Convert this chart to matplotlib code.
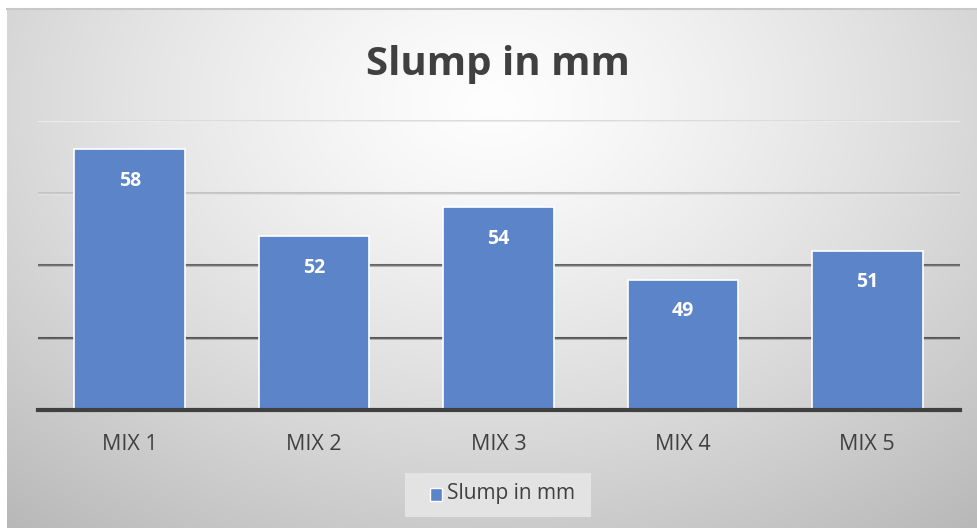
import numpy as np
import matplotlib
matplotlib.use("Agg")
import matplotlib.pyplot as plt
from matplotlib.patches import Rectangle

categories = ["MIX 1", "MIX 2", "MIX 3", "MIX 4", "MIX 5"]
values = [58, 52, 54, 49, 51]
series_name = "Slump in mm"
title = "Slump in mm"
y_min, y_max = 40, 60
grid_vals = [45, 50, 55, 60]
grid_colors = ["#555555", "#666666", "#c4c4c4", "#d8d8d8"]

plt.rcParams['font.family'] = ['Open Sans', 'DejaVu Sans']

W, H = 977, 528
fig = plt.figure(figsize=(W / 100, H / 100), dpi=100)
fig.patch.set_facecolor("white")

# background gradient
bg = fig.add_axes([7 / W, 0, (W - 7) / W, (H - 8) / H])
bg.set_axis_off()
yy, xx = np.mgrid[0:1:300j, 0:1:600j]
d = np.sqrt(((xx - 0.5) / 0.72) ** 2 + ((yy - 0.18) / 0.95) ** 2)
lum = 0.995 - 0.24 * np.clip(d, 0, 1.2) ** 1.3
img = np.dstack([lum, lum, lum])
bg.imshow(img, aspect="auto", extent=[0, 1, 1, 0], interpolation="bilinear")
bg.set_xlim(0, 1)
bg.set_ylim(1, 0)
fig.add_artist(plt.Line2D([7 / W, 1], [(H - 8.5) / H] * 2, color="#c8c8c8", lw=1.5))

ax = fig.add_axes([37.5 / W, (H - 410) / H, 922 / W, 290 / H])
ax.patch.set_alpha(0)
x = np.arange(len(categories))
ax.set_xlim(-0.5, len(categories) - 0.5)
ax.set_ylim(y_min, y_max)
for gv, gc in zip(grid_vals, grid_colors):
    ax.axhline(gv, color=gc, lw=2.2, zorder=1)
    ax.axhline(gv - 0.09, color="#ffffff", lw=1.0, alpha=0.5, zorder=1)
bars = ax.bar(x, values, width=0.6, color="#5b84c9", edgecolor="white",
              linewidth=1.2, zorder=2, label=series_name)
for xi, v in zip(x, values):
    ax.text(xi, v - 2.2, str(v), ha="center", va="center", color="white",
            fontsize=14, fontweight="bold", zorder=3)
ax.axhline(y_min, color="#404040", lw=3, zorder=4, clip_on=False)
for s in ax.spines.values():
    s.set_visible(False)
ax.set_yticks([])
ax.set_xticks(x)
ax.set_xticklabels(categories, fontsize=15.5, color="#404040")
ax.tick_params(axis="x", length=0, pad=17)

fig.text(498 / W, (H - 64) / H, title, ha="center", va="center", fontsize=29,
         fontweight="bold", color="#404040")

# legend box
fig.add_artist(Rectangle((405 / W, (H - 517) / H), 186 / W, 44 / H,
                         transform=fig.transFigure, facecolor="#e3e3e3",
                         edgecolor="none", zorder=1))
fig.add_artist(Rectangle((430 / W, (H - 501) / H), 12 / W, 13 / H,
                         transform=fig.transFigure, facecolor="#5b84c9",
                         edgecolor="white", lw=1, zorder=2))
fig.text(447 / W, (H - 494) / H, series_name, ha="left", va="center",
         fontsize=15, color="#404040", zorder=3)

fig.savefig("out.png", dpi=100, facecolor=fig.get_facecolor())
